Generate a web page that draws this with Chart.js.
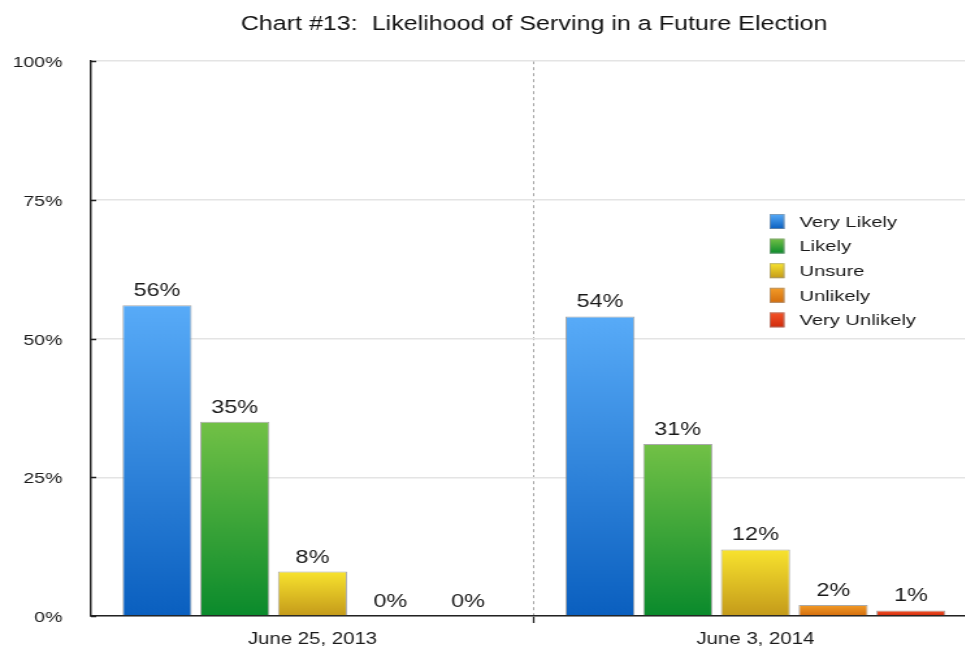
<!DOCTYPE html>
<html>
<head>
<meta charset="utf-8">
<script src="https://cdn.jsdelivr.net/npm/chart.js@4/dist/chart.umd.min.js"></script>
<style>
  html, body { margin: 0; padding: 0; overflow: hidden; background: #fff; width: 965px; height: 653px; }
  #wrap { position: absolute; left: 0; top: 0; width: 762px; height: 653px; transform: scaleX(1.3); transform-origin: 0 0; }
</style>
</head>
<body>
<div id="wrap"><canvas id="chart" width="762" height="653"></canvas></div>
<script>
// Survey dates (categories)
const surveyDates = ['June 25, 2013', 'June 3, 2014'];

// Response shares, percent
const responseLabels = ['Very Likely', 'Likely', 'Unsure', 'Unlikely', 'Very Unlikely'];
const veryLikely = [56, 54];
const likely = [35, 31];
const unsure = [8, 12];
const unlikely = [0, 2];
const veryUnlikely = [0, 1];

// Value axis ticks
const yTickValues = [0, 25, 50, 75, 100];

// Top/bottom colours of each series' vertical gradient
const seriesShades = [
  ['#58abf8', '#0a5fbf'],
  ['#72c146', '#0a8a2c'],
  ['#f8e32e', '#c49a1a'],
  ['#f39c28', '#d36d0d'],
  ['#f4542a', '#d02a0b']
];

const FONT = '"Liberation Sans", Arial, Helvetica, sans-serif';

function barGradient(shade) {
  return (ctx) => {
    const chart = ctx.chart;
    if (!chart.chartArea || ctx.type !== 'data' || !chart.scales.y) return shade[0];
    const ys = chart.scales.y;
    const yTop = ys.getPixelForValue(ctx.raw);
    const yBot = ys.getPixelForValue(0);
    if (yBot - yTop < 1) return shade[1];
    const g = chart.ctx.createLinearGradient(0, yTop, 0, yBot);
    g.addColorStop(0, shade[0]);
    g.addColorStop(1, shade[1]);
    return g;
  };
}

const seriesValues = [veryLikely, likely, unsure, unlikely, veryUnlikely];
const datasets = seriesValues.map((vals, i) => ({
  label: responseLabels[i],
  data: vals,
  backgroundColor: barGradient(seriesShades[i]),
  borderColor: 'rgba(140,140,140,0.75)',
  borderWidth: 1,
  borderSkipped: 'bottom',
  categoryPercentage: 0.877,
  barPercentage: 0.89
}));

// Percentage labels above each bar
const valueLabels = {
  id: 'valueLabels',
  afterDatasetsDraw(chart) {
    const c = chart.ctx;
    c.save();
    c.font = '18px ' + FONT;
    c.fillStyle = '#1a1a1a';
    c.textAlign = 'center';
    c.textBaseline = 'alphabetic';
    chart.data.datasets.forEach((ds, di) => {
      chart.getDatasetMeta(di).data.forEach((bar, i) => {
        c.fillText(ds.data[i] + '%', bar.x, bar.y - 9);
      });
    });
    c.restore();
  }
};

// Short inward tick marks on the value axis
const innerTicks = {
  id: 'innerTicks',
  afterDraw(chart) {
    const ys = chart.scales.y;
    const x0 = chart.chartArea.left;
    const c = chart.ctx;
    c.save();
    c.strokeStyle = '#222';
    c.lineWidth = 1.5;
    yTickValues.forEach(v => {
      const y = Math.round(ys.getPixelForValue(v)) + 0.5;
      c.beginPath();
      c.moveTo(x0, y);
      c.lineTo(x0 + 4, y);
      c.stroke();
    });
    c.restore();
  }
};

// Legend box inside the plot, upper right
const insideLegend = {
  id: 'insideLegend',
  afterDraw(chart) {
    const c = chart.ctx;
    const left = 592, top = 214, rowH = 24.6, boxW = 11.5, boxH = 15;
    c.save();
    c.font = '15.5px ' + FONT;
    c.textBaseline = 'middle';
    c.textAlign = 'left';
    chart.data.datasets.forEach((ds, i) => {
      const y = top + i * rowH;
      const shade = seriesShades[i];
      const g = c.createLinearGradient(0, y, 0, y + boxH);
      g.addColorStop(0, shade[0]);
      g.addColorStop(1, shade[1]);
      c.fillStyle = g;
      c.fillRect(left, y, boxW, boxH);
      c.strokeStyle = 'rgba(150,150,150,0.6)';
      c.lineWidth = 1;
      c.strokeRect(left + 0.5, y + 0.5, boxW - 1, boxH - 1);
      c.fillStyle = '#1a1a1a';
      c.fillText(ds.label, left + 23, y + boxH / 2 + 1);
    });
    c.restore();
  }
};

new Chart(document.getElementById('chart'), {
  type: 'bar',
  data: { labels: surveyDates, datasets },
  plugins: [valueLabels, innerTicks, insideLegend],
  options: {
    responsive: false,
    animation: false,
    devicePixelRatio: 1,
    layout: { padding: { left: 8, right: 10.5, top: 0, bottom: 0 } },
    plugins: {
      legend: { display: false },
      tooltip: { enabled: false },
      title: {
        display: true,
        text: 'Chart #13:  Likelihood of Serving in a Future Election',
        fullSize: false,
        color: '#111',
        font: { family: FONT, size: 19.3, weight: 'normal' },
        padding: { top: 13, bottom: 25 }
      }
    },
    scales: {
      x: {
        offset: true,
        grid: {
          offset: true,
          drawOnChartArea: true,
          color: (ctx) => ctx.index === 1 ? '#9a9a9a' : 'rgba(0,0,0,0)',
          lineWidth: 0.9,
          drawTicks: true,
          tickLength: 7,
          tickColor: (ctx) => ctx.index === 1 ? '#222' : 'rgba(0,0,0,0)',
          tickWidth: 1.3,
          tickBorderDash: []
        },
        border: { display: true, color: '#222', width: 1.5, dash: [3, 3] },
        ticks: { color: '#1a1a1a', font: { family: FONT, size: 15.7 }, padding: 7 },
        afterFit(scale) { scale.height = 37; }
      },
      y: {
        min: 0,
        max: 100,
        afterBuildTicks(scale) { scale.ticks = yTickValues.map(v => ({ value: v })); },
        ticks: {
          color: '#1a1a1a',
          font: { family: FONT, size: 15 },
          padding: 22,
          labelOffset: 2,
          callback: (v) => v + '%'
        },
        grid: { color: '#e4e4e4', lineWidth: 1.5, drawTicks: false },
        border: { display: true, color: '#222', width: 1.5 },
        afterFit(scale) { scale.width = 62; }
      }
    }
  }
});
</script>
</body>
</html>
